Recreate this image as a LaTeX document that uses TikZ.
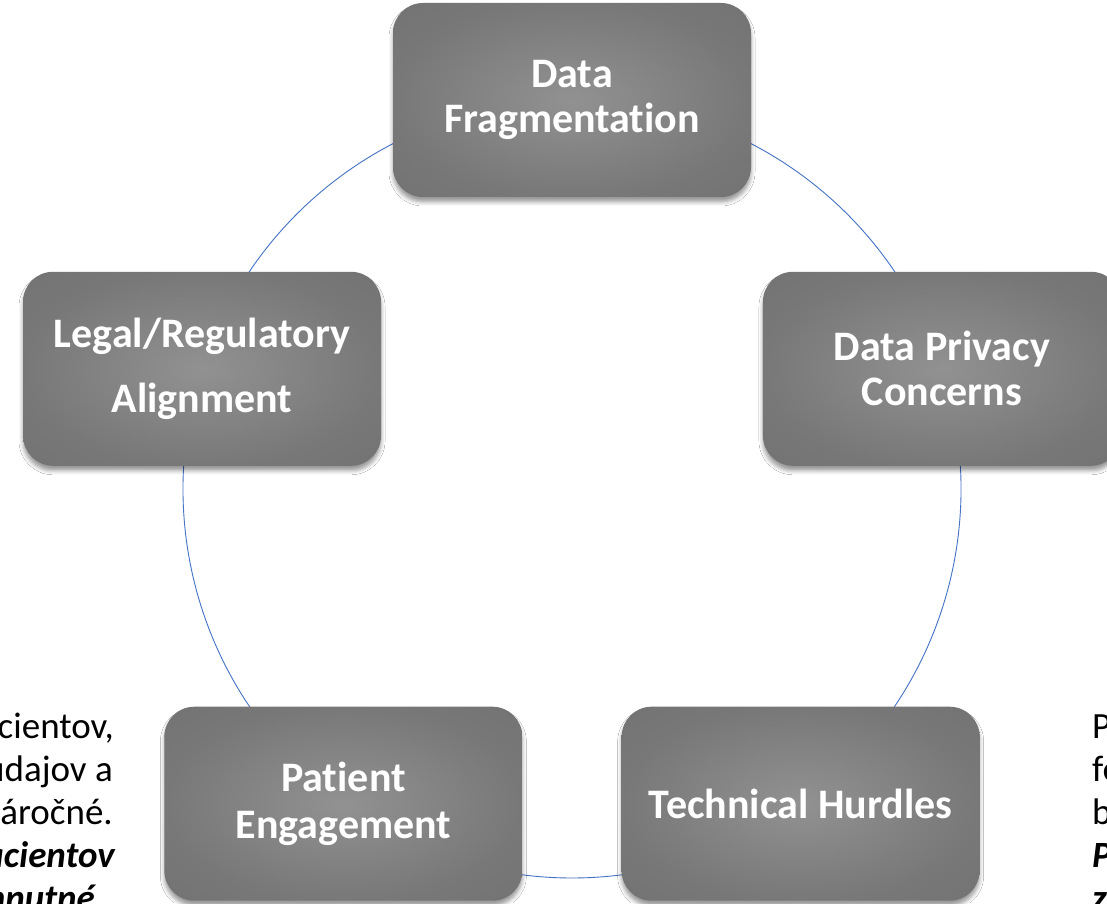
\documentclass[tikz,border=0pt]{standalone}
\usepackage{fontspec}
\setmainfont{Carlito}[Ligatures=NoCommon]
\usetikzlibrary{shadows.blur,backgrounds}
\pgfdeclareradialshading{boxshade}{\pgfpoint{0bp}{0bp}}{rgb(0bp)=(0.57,0.57,0.57); rgb(25bp)=(0.47,0.47,0.47); rgb(36bp)=(0.45,0.45,0.45); rgb(50bp)=(0.45,0.45,0.45)}
\definecolor{linkblue}{HTML}{4472C4}
\begin{document}
\begin{tikzpicture}[x=1pt,y=1pt,
  box/.style={rectangle, rounded corners=30pt, minimum width=358pt, minimum height=194pt,
    inner sep=0pt, shading=boxshade, text=white, align=center,
    font=\bfseries\fontsize{42}{45}\selectfont,
    blur shadow={shadow xshift=0pt, shadow yshift=-5pt, shadow blur radius=4pt, shadow opacity=40}},
  link/.style={draw=linkblue, line width=0.9pt},
  side/.style={font=\fontsize{37}{43}\selectfont, inner sep=0pt, text=black},
  sideem/.style={side, font=\bfseries\itshape\fontsize{37}{43}\selectfont}]
\clip (0,0) rectangle (1107,903);
\coordinate (c) at (572,414);
\node[box] (df) at ([shift={(90:389pt)}]c) {Data\\Fragmentation};
\node[box, font=\bfseries\fontsize{42}{65}\selectfont] (lra) at ([shift={(162:389pt)}]c) {Legal/Regulatory\\Alignment};
\node[box] (dpc) at ([shift={(18:389pt)}]c) {Data Privacy\\Concerns};
\node[box, font=\bfseries\fontsize{42}{47}\selectfont] (pe) at ([shift={(234:389pt)}]c) {Patient\\Engagement};
\node[box] (th) at ([shift={(306:389pt)}]c) {Technical Hurdles};
\begin{scope}[on background layer]
  \fill[white] (0,0) rectangle (1107,903);
  \draw[link] (df.center) arc[start angle=90, end angle=162, radius=389pt];
  \draw[link] (lra.center) arc[start angle=162, end angle=234, radius=389pt];
  \draw[link] (pe.center) arc[start angle=234, end angle=306, radius=389pt];
  \draw[link] (th.center) arc[start angle=306, end angle=378, radius=389pt];
  \draw[link] (dpc.center) arc[start angle=18, end angle=90, radius=389pt];
\end{scope}
% left text fragments
\node[side, anchor=base east] (l1) at (114,165) {cientov,};
\node[side, anchor=base east] (l2) at (113,122) {údajov a};
\node[side, anchor=base east] (l3) at (113,79) {áročné.};
\node[sideem, anchor=base east] (l4) at (115,36) {acientov};
\node[sideem, anchor=base east] (l5) at (105,-7) {hnutné.};
% right text fragments
\node[side, anchor=base west] (r1) at (1092,165) {P};
\node[side, anchor=base west] (r2) at (1092,122) {fe};
\node[side, anchor=base west] (r3) at (1092,79) {b};
\node[sideem, anchor=base west] (r4) at (1092,36) {P};
\node[sideem, anchor=base west] (r5) at (1092,-7) {z};
\end{tikzpicture}
\end{document}
